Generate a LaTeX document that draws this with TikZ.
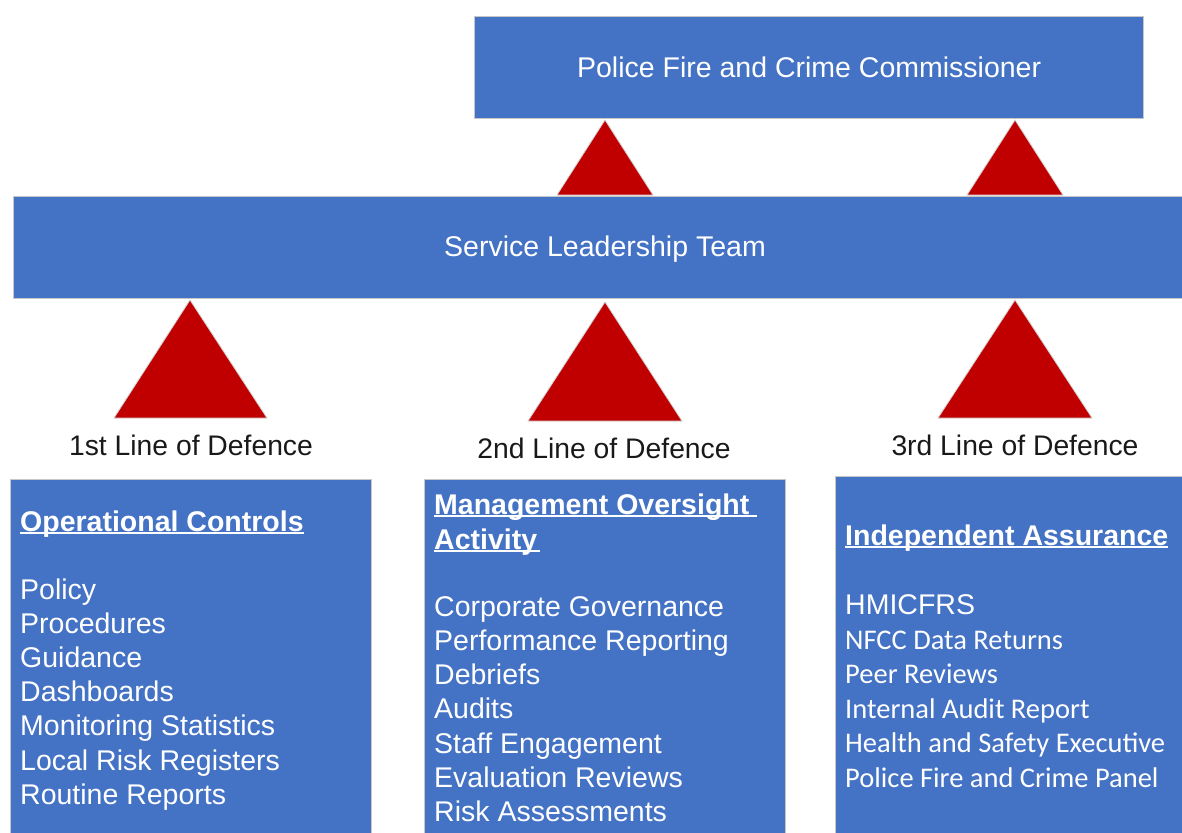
\documentclass[tikz,border=0pt]{standalone}
\usepackage{fontspec}
\setmainfont{Liberation Sans}
\newfontfamily\calfont{Carlito}
\definecolor{boxblue}{HTML}{4472C4}
\definecolor{trired}{HTML}{C00000}
\newcommand{\ulbox}[2][0pt]{\setbox0\hbox{#2}\rlap{\rule[-3.2pt]{\dimexpr\wd0+#1\relax}{2pt}}\box0}
\tikzset{
  bluebox/.style={fill=boxblue, draw=black!22, line width=1.2pt, inner sep=0pt, text=white,
    font=\fontsize{28.5}{34}\selectfont},
  tri/.style={fill=trired, draw=black!18, line width=0.8pt, line join=miter},
  boxtext/.style={text=white, anchor=base west, inner sep=0pt, font=\fontsize{28.5}{34}\selectfont},
  lbl/.style={text=black!90, anchor=base, inner sep=0pt, font=\fontsize{28.3}{34}\selectfont},
}
\begin{document}
\begin{tikzpicture}[x=1pt,y=-1pt]
\useasboundingbox (0,0) rectangle (1182,832);
\clip (0,0) rectangle (1182,832);
% top box
\node[bluebox, minimum width=669pt, minimum height=102pt, anchor=north west] (pfcc) at (474,16) {Police Fire and Crime Commissioner};
% service leadership band
\node[bluebox, minimum width=1180pt, minimum height=102pt, anchor=north west] (slt) at (13,196) {};
\node[boxtext, anchor=base] (slttext) at (605,256) {Service Leadership Team};
% upper triangles
\coordinate (ua) at (605,120);
\coordinate (ub) at (1015,120);
\draw[tri] (557,195) -- (ua) -- (653,195) -- cycle;
\draw[tri] (967,195) -- (ub) -- (1063,195) -- cycle;
% lower triangles
\coordinate (la) at (190,300);
\coordinate (lb) at (605,302);
\coordinate (lc) at (1015,300);
\draw[tri] (114,418) -- (la) -- (267,418) -- cycle;
\draw[tri] (528,421) -- (lb) -- (682,421) -- cycle;
\draw[tri] (938,418) -- (lc) -- (1092,418) -- cycle;
% labels
\node[lbl] (l1) at (191,455) {1st Line of Defence};
\node[lbl] (l2) at (604,458) {2nd Line of Defence};
\node[lbl] (l3) at (1015,455) {3rd Line of Defence};
% bottom boxes
\node[bluebox, minimum width=361pt, minimum height=380pt, anchor=north west] (b1) at (10,479) {};
\node[bluebox, minimum width=361pt, minimum height=380pt, anchor=north west] (b2) at (424,479) {};
\node[bluebox, minimum width=360pt, minimum height=380pt, anchor=north west] (b3) at (835,476) {};
% box 1 text
\node[boxtext] (h1) at (20,531) {\ulbox{\bfseries Operational Controls}};
\foreach \t [count=\i] in {Policy,Procedures,Guidance,Dashboards,Monitoring Statistics,Local Risk Registers,Routine Reports}
  \node[boxtext] (a\i) at (20,{599+34.2*(\i-1)}) {\t};
% box 2 text
\node[boxtext] (h2a) at (434,514) {\ulbox{\bfseries Management Oversight\ }};
\node[boxtext] (h2b) at (434,549) {\ulbox[3pt]{\bfseries Activity}};
\foreach \t [count=\i] in {Corporate Governance,Performance Reporting,Debriefs,Audits,Staff Engagement,Evaluation Reviews,Risk Assessments}
  \node[boxtext] (m\i) at (434,{616+34.3*(\i-1)}) {\t};
% box 3 text
\node[boxtext] (h3) at (845,545) {\ulbox{\bfseries Independent Assurance}};
\node[boxtext] (c0) at (845,614) {HMICFRS};
\foreach \t [count=\i] in {NFCC Data Returns,Peer Reviews,Internal Audit Report,Health and Safety Executive,Police Fire and Crime Panel}
  \node[boxtext, font=\calfont\fontsize{28.5}{34}\selectfont] (c\i) at (845,{649+34.5*(\i-1)}) {\t};
\end{tikzpicture}
\end{document}
